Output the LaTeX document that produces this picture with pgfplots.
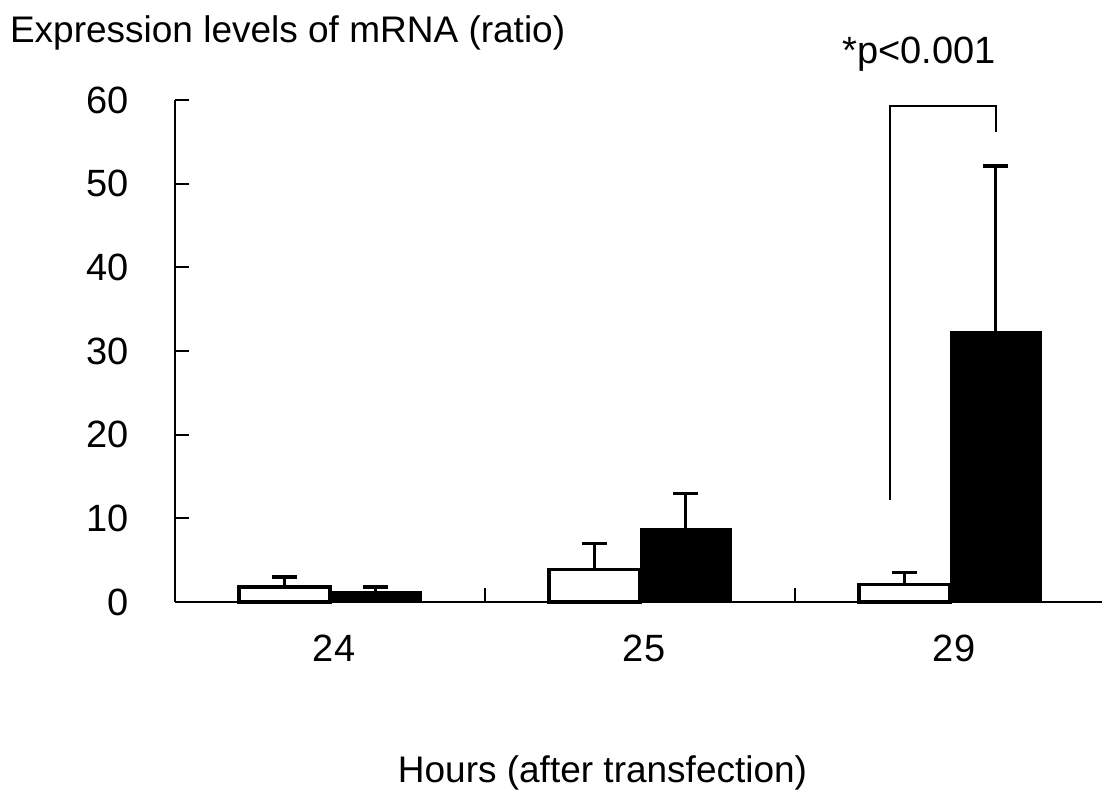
\documentclass[border=0pt]{standalone}
\usepackage{fontspec}
\setmainfont{Liberation Sans}
\usepackage{pgfplots}
\pgfplotsset{compat=1.18}
\begin{document}
\begin{tikzpicture}
\begin{axis}[
  scale only axis, width=463.5pt, height=251pt,
  xmin=-0.5, xmax=2.49, ymin=0, ymax=60,
  axis x line=bottom, axis y line=left,
  axis line style={-, line width=1pt},
  ybar=0pt, bar width=45.5pt,
  xtick={0,1,2}, xticklabels={24,25,29},
  x tick style={draw=none},
  extra x ticks={0.5,1.5}, extra x tick labels={},
  extra x tick style={x tick style={draw=black, line width=1pt}},
  ytick={0,10,...,60},
  y tick style={line width=1pt, black},
  tick align=inside, major tick length=7pt,
  tick label style={font=\fontsize{19}{22}\selectfont},
  /pgf/number format/assume math mode=true,
  xticklabel style={yshift=-12.8pt, xshift=2pt},
  yticklabel style={xshift=-19.5pt},
  ylabel={Expression levels of mRNA (ratio)},
  every axis y label/.style={at={(rel axis cs:0,1)}, anchor=base west,
    xshift=-86pt, yshift=28.5pt, font=\fontsize{18.5}{22}\selectfont},
  xlabel={Hours (after transfection)},
  every axis x label/.style={at={(rel axis cs:0.5,0)}, anchor=base,
    xshift=-18pt, yshift=-90.5pt, font=\fontsize{18.5}{22}\selectfont},
  clip=false,
]
% white bars (control)
\addplot[fill=white, draw=black, line width=1.6pt,
  error bars/.cd, y dir=plus, y explicit,
  error bar style={line width=1.5pt, black},
  error mark options={rotate=90, mark size=6.25pt, line width=1.7pt, black}]
  coordinates {(0,1.8) +- (0,1.2) (1,3.9) +- (0,3.1) (2,2.1) +- (0,1.4)};
% black bars
\addplot[fill=black, draw=black, line width=0.5pt,
  error bars/.cd, y dir=plus, y explicit,
  error bar style={line width=1.5pt, black},
  error mark options={rotate=90, mark size=6.25pt, line width=1.7pt, black}]
  coordinates {(0,1.2) +- (0,0.6) (1,8.8) +- (0,4.2) (2,32.3) +- (0,19.8)};
% significance bracket
\addplot[sharp plot, black, line width=0.7pt, forget plot]
  coordinates {(1.806,12.2) (1.806,59.3) (2.148,59.3) (2.148,56.2)};
\node[anchor=base, font=\fontsize{19}{22}\selectfont] at (axis cs:1.9,64.4) {*p<0.001};
\end{axis}
\pgfresetboundingbox
\path ([shift={(-87.5pt,-95pt)}]current axis.south west) rectangle ([shift={(0pt,50pt)}]current axis.north east);
\end{tikzpicture}
\end{document}
